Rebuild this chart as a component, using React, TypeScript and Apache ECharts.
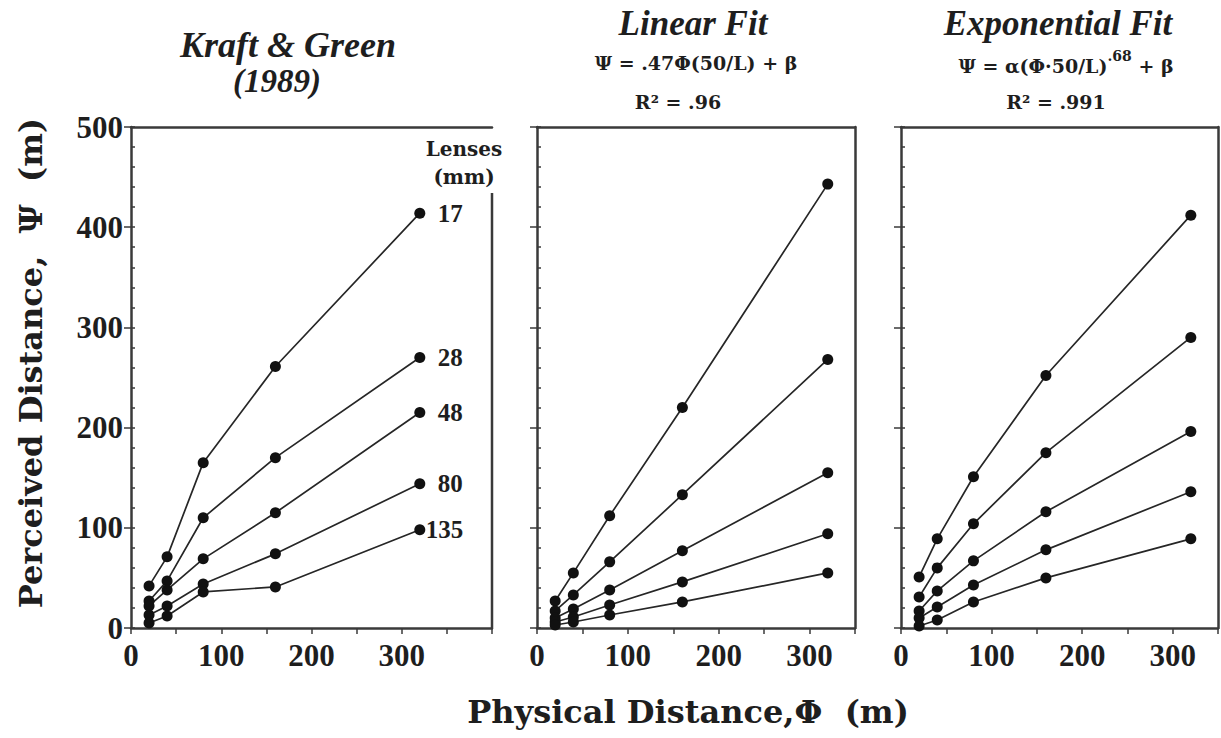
import React, { useEffect, useRef } from 'react';
import * as echarts from 'echarts';

// Physical distance (m) at which each photograph was taken
const physical = [20, 40, 80, 160, 320];
// Lens focal lengths (mm)
const lensNames = ['17', '28', '48', '80', '135'];

// Kraft & Green (1989) perceived distances (m)
const kraft17 = [42, 71, 165, 261, 414];
const kraft28 = [27, 47, 110, 170, 270];
const kraft48 = [22, 38, 69, 115, 215];
const kraft80 = [13, 22, 44, 74, 144];
const kraft135 = [5, 12, 36, 41, 98];

// Linear fit predictions
const linear17 = [27, 55, 112, 220, 443];
const linear28 = [17, 33, 66, 133, 268];
const linear48 = [10, 19, 38, 77, 155];
const linear80 = [6, 11, 23, 46, 94];
const linear135 = [3, 6, 13, 26, 55];

// Exponential fit predictions
const exp17 = [51, 89, 151, 252, 412];
const exp28 = [31, 60, 104, 175, 290];
const exp48 = [17, 37, 67, 116, 196];
const exp80 = [10, 21, 43, 78, 136];
const exp135 = [2, 8, 26, 50, 89];

const panelTitles = ['Kraft & Green', 'Linear Fit', 'Exponential Fit'];
const yTitle = 'Perceived Distance,  \u03A8  (m)';
const xTitle = 'Physical Distance,\u03A6  (m)';

const NUM_FONT = "'Liberation Serif', 'Times New Roman', serif";
const TXT_FONT = "'DejaVu Serif', 'Liberation Serif', serif";
const INK = '#1e1e1e';
const AXIS = '#3a3a3a';

export default function App() {
  const ref = useRef<HTMLDivElement>(null);

  useEffect(() => {
    if (!ref.current) return;
    const chart = echarts.init(ref.current, undefined, { renderer: 'svg' });

    const panels = [
      { sets: [kraft17, kraft28, kraft48, kraft80, kraft135], max: 400, left: 131, width: 361, labels: true },
      { sets: [linear17, linear28, linear48, linear80, linear135], max: 350, left: 537, width: 318, labels: false },
      { sets: [exp17, exp28, exp48, exp80, exp135], max: 350, left: 901, width: 317, labels: false },
    ];

    const grid: any[] = [];
    const xAxis: any[] = [];
    const yAxis: any[] = [];
    const series: any[] = [];

    panels.forEach((p, pi) => {
      grid.push({ left: p.left, top: 127, width: p.width, height: 501 });
      // bottom axis
      xAxis.push({
        gridIndex: pi,
        type: 'value',
        position: 'bottom',
        min: 0,
        max: p.max,
        interval: 50,
        splitLine: { show: false },
        axisLine: { onZero: false, lineStyle: { color: AXIS, width: 2.5 } },
        axisTick: { length: 6, lineStyle: { color: AXIS, width: 1.5 } },
        axisLabel: {
          margin: 12,
          fontFamily: NUM_FONT,
          fontWeight: 'bold',
          fontSize: 31,
          color: INK,
          formatter: (v: number) => (v % 100 === 0 && v <= 300 ? String(v) : ''),
        },
      });
      // top border
      xAxis.push({
        gridIndex: pi,
        type: 'value',
        position: 'top',
        min: 0,
        max: p.max,
        splitLine: { show: false },
        axisLine: { onZero: false, lineStyle: { color: AXIS, width: 2.5 } },
        axisTick: { show: false },
        axisLabel: { show: false },
      });
      // main y axis
      yAxis.push({
        gridIndex: pi,
        type: 'value',
        position: 'left',
        min: 0,
        max: 500,
        interval: 100,
        splitLine: { show: false },
        axisLine: { onZero: false, lineStyle: { color: AXIS, width: 2.5 } },
        axisTick: { length: 7, lineStyle: { color: AXIS, width: 1.5 } },
        axisLabel: {
          show: p.labels,
          margin: 8,
          fontFamily: NUM_FONT,
          fontWeight: 'bold',
          fontSize: 31,
          color: INK,
        },
      });
      // right border
      yAxis.push({
        gridIndex: pi,
        type: 'value',
        position: 'right',
        min: 0,
        max: 500,
        splitLine: { show: false },
        axisLine: { show: pi !== 0, onZero: false, lineStyle: { color: AXIS, width: 2.5 } },
        axisTick: { show: false },
        axisLabel: { show: false },
      });

      p.sets.forEach((vals, si) => {
        series.push({
          type: 'line',
          name: lensNames[si],
          xAxisIndex: pi * 2,
          yAxisIndex: pi * 2,
          data: physical.map((x, i) => [x, vals[i]]),
          symbol: 'circle',
          symbolSize: 11,
          itemStyle: { color: '#111' },
          lineStyle: { color: '#262626', width: 1.7 },
          endLabel: p.labels
            ? {
                show: true,
                formatter: lensNames[si],
                distance: si === 4 ? 6 : 18,
                fontFamily: NUM_FONT,
                fontWeight: 'bold',
                fontSize: 25,
                color: INK,
              }
            : undefined,
        });
      });
    });

    // overlay grids carrying the inward minor ticks on the y axes
    panels.forEach((p, pi) => {
      const gi = panels.length + pi;
      grid.push({ left: p.left, top: 127, width: p.width, height: 501 });
      xAxis.push({
        gridIndex: gi,
        type: 'value',
        min: 0,
        max: p.max,
        show: false,
      });
      yAxis.push({
        gridIndex: gi,
        type: 'value',
        position: 'left',
        min: 0,
        max: 500,
        interval: 20,
        splitLine: { show: false },
        axisLine: { show: false },
        axisTick: { show: true, inside: true, length: 4, lineStyle: { color: AXIS, width: 1.5 } },
        axisLabel: { show: false },
      });
    });

    const plain = (text: string, size: number, family: string, italic = false, bold = true) => ({
      text,
      fill: INK,
      font: `${italic ? 'italic ' : ''}${bold ? 'bold ' : ''}${size}px ${family}`,
      align: 'center',
      verticalAlign: 'middle',
    });

    const graphic: any[] = [
      // partial right border of first panel
      { type: 'line', shape: { x1: 492, y1: 193, x2: 492, y2: 628 }, style: { stroke: AXIS, lineWidth: 2.5 } },
      { type: 'text', x: 288, y: 45, style: plain(panelTitles[0], 36, NUM_FONT, true) },
      { type: 'text', x: 277, y: 81, style: plain('(1989)', 33, NUM_FONT, true) },
      { type: 'text', x: 464, y: 149, style: plain('Lenses', 20, TXT_FONT) },
      { type: 'text', x: 464, y: 177, style: plain('(mm)', 20, TXT_FONT) },
      { type: 'text', x: 693, y: 23, style: plain(panelTitles[1], 35, NUM_FONT, true) },
      { type: 'text', x: 696, y: 63, style: plain('\u03A8 = .47\u03A6(50/L) + \u03B2', 19, TXT_FONT) },
      { type: 'text', x: 678, y: 102, style: plain('R\u00B2 = .96', 19, TXT_FONT) },
      { type: 'text', x: 1058, y: 23, style: plain(panelTitles[2], 35, NUM_FONT, true) },
      {
        type: 'text',
        x: 1066,
        y: 62,
        style: {
          text: '{a|\u03A8 = \u03B1(\u03A6\u00B750/L)}{s|.68}{a| + \u03B2}',
          align: 'center',
          verticalAlign: 'middle',
          rich: {
            a: { fontFamily: TXT_FONT, fontWeight: 'bold', fontSize: 19, fill: INK, lineHeight: 26, verticalAlign: 'bottom' },
            s: { fontFamily: TXT_FONT, fontWeight: 'bold', fontSize: 14, fill: INK, lineHeight: 26, verticalAlign: 'top' },
          },
        },
      },
      { type: 'text', x: 1056, y: 102, style: plain('R\u00B2 = .991', 19, TXT_FONT) },
      // axis titles
      { type: 'text', x: 31, y: 363, rotation: Math.PI / 2, style: plain(yTitle, 32, TXT_FONT) },
      { type: 'text', x: 688, y: 712, style: plain(xTitle, 32, TXT_FONT) },
    ];

    chart.setOption({
      animation: false,
      backgroundColor: '#ffffff',
      grid,
      xAxis,
      yAxis,
      series,
      graphic,
    });

    return () => chart.dispose();
  }, []);

  return (
    <div
      ref={ref}
      style={{ position: 'fixed', left: 0, top: 0, width: 1221, height: 738, background: '#fff' }}
    />
  );
}
